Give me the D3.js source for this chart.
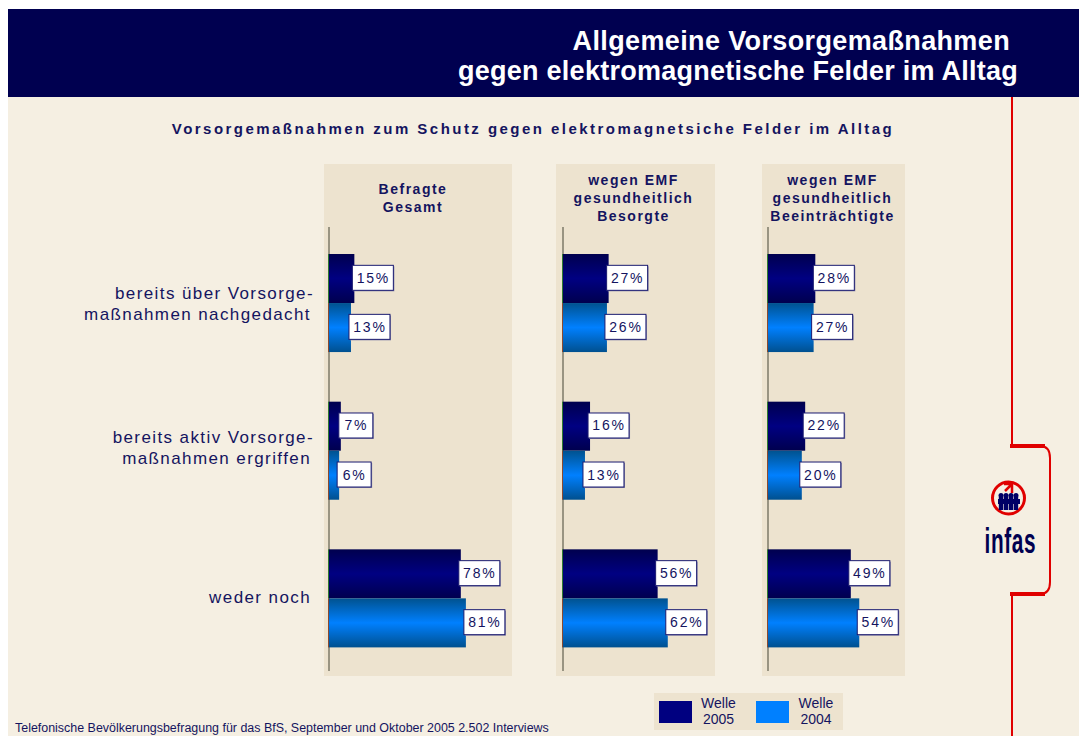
<!DOCTYPE html>
<html><head><meta charset="utf-8">
<script src="https://cdn.jsdelivr.net/npm/d3@7"></script>
<style>html,body{margin:0;padding:0;background:#fff;overflow:hidden}svg{display:block}text{font-family:"Liberation Sans",Arial,sans-serif}</style>
</head><body><svg id="c" width="1079" height="736"></svg>
<script>
const titleLines = ["Allgemeine Vorsorgemaßnahmen", "gegen elektromagnetische Felder im Alltag"];
const subtitle = "Vorsorgemaßnahmen zum Schutz gegen elektromagnetsiche Felder im Alltag";
const categories = ["bereits über Vorsorge-|maßnahmen nachgedacht", "bereits aktiv Vorsorge-|maßnahmen ergriffen", "weder noch"];
const seriesNames = ["Welle 2005", "Welle 2004"];
const panelTitles = [["Befragte", "Gesamt"], ["wegen EMF", "gesundheitlich", "Besorgte"], ["wegen EMF", "gesundheitlich", "Beeinträchtigte"]];
const welle2005 = [[15, 7, 78], [27, 16, 56], [28, 22, 49]];
const welle2004 = [[13, 6, 81], [26, 13, 62], [27, 20, 54]];
const footer = "Telefonische Bevölkerungsbefragung für das BfS, September und Oktober 2005 2.502 Interviews";

const navy = "#000066", ink = "#14145f", red = "#e00000";
const panelBoxes = [{l:324,r:512,a:329,c:413},{l:556,r:715,a:563,c:633.5},{l:762,r:905,a:768,c:832.5}];
const svg = d3.select("#c");
const defs = svg.append("defs");
function grad(id, edge, mid, edge2){
  const g = defs.append("linearGradient").attr("id",id).attr("x1",0).attr("x2",0).attr("y1",0).attr("y2",1);
  [[0,edge],[.5,mid],[1,edge2]].forEach(s=>g.append("stop").attr("offset",s[0]).attr("stop-color",s[1]));
}
grad("g0","#00004e","#000082","#00004e");
grad("g1","#00528f","#0080ff","#00508f");

svg.append("rect").attr("x",8).attr("y",9).attr("width",1071).attr("height",727).attr("fill","#f5efe2");
svg.append("rect").attr("x",8).attr("y",9).attr("width",1071).attr("height",88).attr("fill","#000050");
svg.append("text").attr("x",1010).attr("y",50).attr("text-anchor","end").attr("fill","#fff")
  .attr("font-size",27).attr("font-weight","bold").attr("letter-spacing",0.37).text(titleLines[0]);
svg.append("text").attr("x",1018).attr("y",80).attr("text-anchor","end").attr("fill","#fff")
  .attr("font-size",27).attr("font-weight","bold").attr("letter-spacing",0.25).text(titleLines[1]);
svg.append("text").attr("x",533).attr("y",133.5).attr("text-anchor","middle").attr("fill",ink)
  .attr("font-size",15).attr("font-weight","bold").attr("letter-spacing",2.46).text(subtitle);

// red bracket
svg.append("path").attr("fill","none").attr("stroke",red).attr("stroke-width",2)
  .attr("d","M1012,97V446M1012,594V736M1040,446Q1050,446 1050,458V582Q1050,594 1040,594");
svg.append("path").attr("fill","none").attr("stroke",red).attr("stroke-width",4)
  .attr("d","M1010,446H1045M1010,594H1045");

const y = d3.scaleBand().domain(categories).range([229.2,672.2]).paddingInner(0.336).paddingOuter(0.168);
const ySub = d3.scaleBand().domain(seriesNames).range([0,y.bandwidth()]);
const x = d3.scaleLinear().domain([0,100]).range([0,169]);
const seriesData = [welle2005, welle2004];

panelBoxes.forEach((p,pi)=>{
  svg.append("rect").attr("x",p.l).attr("y",164).attr("width",p.r-p.l).attr("height",512).attr("fill","#ede3cf");
  const lines = panelTitles[pi];
  lines.forEach((t,i)=>svg.append("text").attr("x",p.c).attr("y",(lines.length===2?194:185)+i*18)
    .attr("text-anchor","middle").attr("fill",ink).attr("font-size",14).attr("font-weight","bold").attr("letter-spacing",1.5).text(t));
  const g = svg.append("g").attr("transform",`translate(${p.a},0)`);
  g.append("line").attr("y1",227).attr("y2",671).attr("stroke","#7d7a68").attr("stroke-width",1.5);
  seriesNames.forEach((s,si)=>{
    categories.forEach((c,ci)=>{
      const v = seriesData[si][pi][ci], by = y(c)+ySub(s), bh = ySub.bandwidth();
      g.append("rect").attr("x",0).attr("y",by).attr("width",x(v)).attr("height",bh).attr("fill",`url(#g${si})`);
      g.append("line").attr("x1",-.5).attr("x2",-.5).attr("y1",by).attr("y2",by+bh).attr("stroke",si?"#8a4a30":"#2f7a2f").attr("stroke-width",1);
      const label = v+"%", w = v<10?34:41, bx = x(v)-2, ly = by+bh/2-0.7;
      g.append("rect").attr("x",bx+1).attr("y",ly-11.5).attr("width",w).attr("height",25).attr("fill","#8a88a8");
      g.append("rect").attr("x",bx).attr("y",ly-12.5).attr("width",w).attr("height",25).attr("fill","#fff").attr("stroke","#1a1a70").attr("stroke-width",1);
      g.append("text").attr("x",bx+w/2+.5).attr("y",ly+5).attr("text-anchor","middle").attr("fill",ink)
        .attr("font-size",14).attr("letter-spacing",1.8).text(label);
    });
  });
});

const catBase = [[299,320],[443,464],[603]];
categories.forEach((c,ci)=>{
  const parts=c.split("|");
  const xs = parts.length>1 ? [314,311] : [311];
  parts.forEach((t,i)=>svg.append("text").attr("x",xs[i]).attr("y",catBase[ci][i])
    .attr("text-anchor","end").attr("fill",ink).attr("font-size",17).attr("letter-spacing",1.4).text(t));
});

// legend
svg.append("rect").attr("x",654).attr("y",693).attr("width",189).attr("height",37).attr("fill","#ede3cf");
[{x:659,t:718.5,c:"#000080"},{x:756,t:816,c:"#0080ff"}].forEach((l,i)=>{
  svg.append("rect").attr("x",l.x).attr("y",701).attr("width",33).attr("height",22).attr("fill",l.c);
  seriesNames[i].split(" ").forEach((t,j)=>svg.append("text").attr("x",l.t).attr("y",708+j*16)
    .attr("text-anchor","middle").attr("fill",ink).attr("font-size",14).text(t));
});
svg.append("text").attr("x",15).attr("y",732).attr("fill",ink).attr("font-size",12.45).text(footer);

// logo
const logo = svg.append("g");
logo.append("circle").attr("cx",1008.5).attr("cy",498).attr("r",16).attr("fill","none").attr("stroke",red).attr("stroke-width",3);
logo.append("path").attr("fill","none").attr("stroke",red).attr("stroke-width",2.5).attr("d","M1004,484H1012V493M1012,484L1005,491");
[1001,1006,1011,1016].forEach(px=>{
  logo.append("circle").attr("cx",px).attr("cy",495.5).attr("r",2.5).attr("fill",navy);
  logo.append("rect").attr("x",px-2.2).attr("y",497).attr("width",4.4).attr("height",13).attr("fill",navy);
});
logo.append("rect").attr("x",998).attr("y",499).attr("width",22).attr("height",5).attr("fill",navy);
logo.append("text").attr("transform","translate(984.5,553) scale(0.8,1.38)").attr("fill","#000050")
  .attr("font-size",26).attr("font-weight","bold").attr("letter-spacing",0.8).text("infas");
</script></body></html>
